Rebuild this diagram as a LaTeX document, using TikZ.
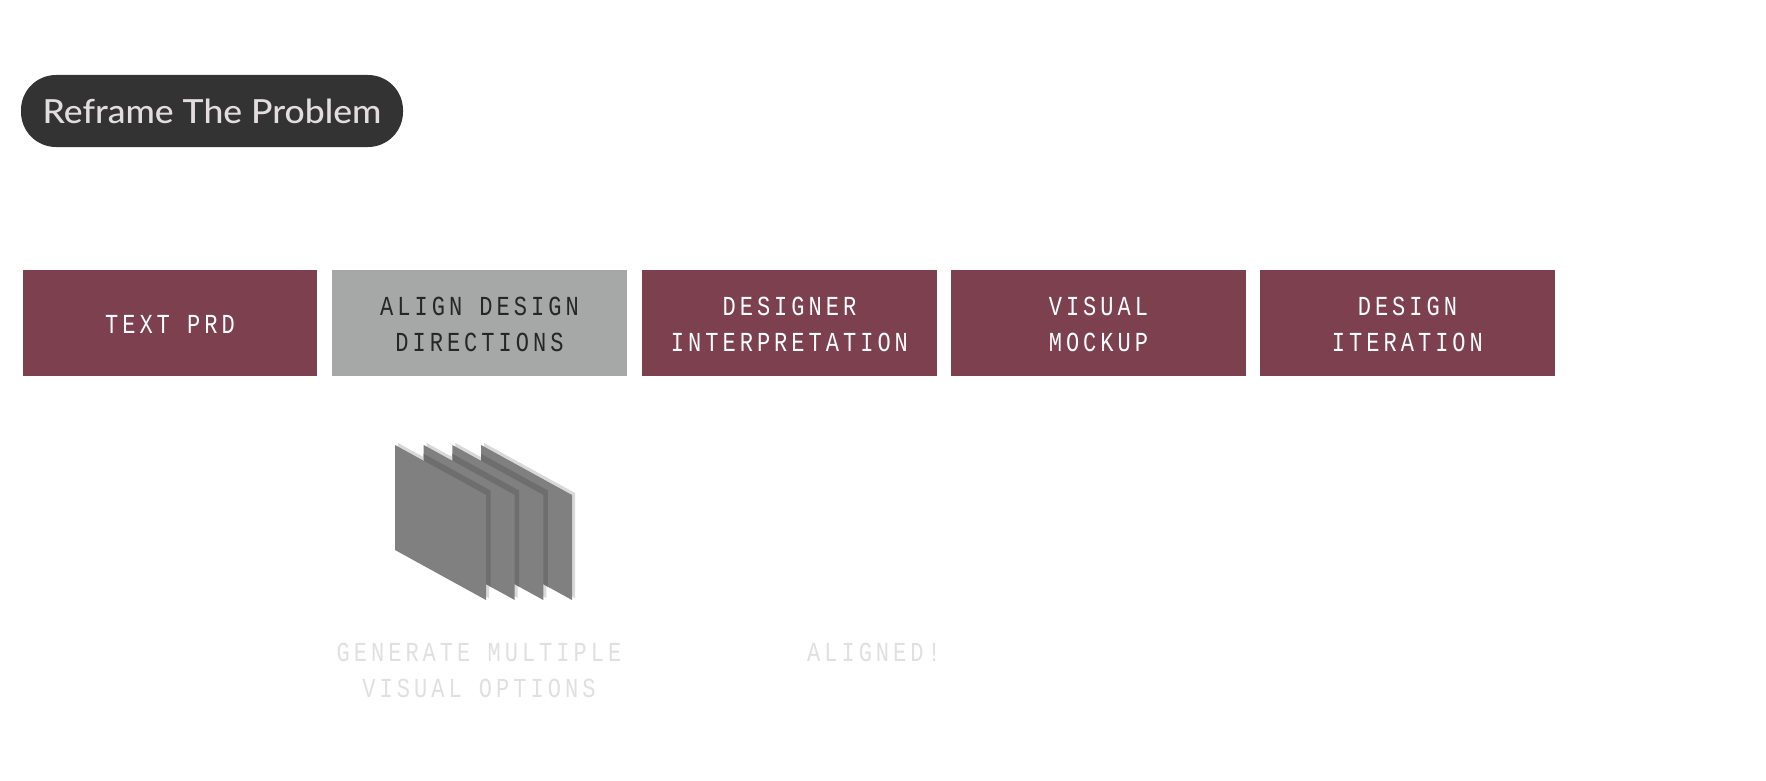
\documentclass[tikz,border=0pt]{standalone}
\usepackage{fontspec}
\setmainfont{Lato}
\newfontfamily\labelfont[FakeStretch=0.8,LetterSpace=14.6]{Liberation Mono}
\newfontfamily\pillfont[FakeStretch=1.07]{Lato Medium}
\definecolor{wine}{HTML}{7D404F}
\definecolor{ash}{HTML}{A6A8A7}
\definecolor{pillgrey}{HTML}{333333}
\definecolor{pilltext}{HTML}{E2DEDF}
\definecolor{palegrey}{HTML}{E0E0E0}
\definecolor{sheet}{HTML}{808080}
\definecolor{sheetshade}{HTML}{6E6E6E}
\definecolor{sheetedge}{HTML}{DAD8D8}
\newcommand{\lowered}[1]{\raisebox{-1pt}[\height][\depth]{#1}}
\tikzset{
  stagebox/.style={minimum width=294.5pt,minimum height=106pt,inner sep=0pt,align=center,anchor=north west,
    font=\labelfont\fontsize{27.5}{36}\selectfont},
  wineBox/.style={stagebox,fill=wine,text=white},
  ashBox/.style={stagebox,fill=ash,text=black!85},
  note/.style={text=palegrey,align=center,inner sep=0pt,font=\labelfont\fontsize{27.5}{36}\selectfont},
}
\newcommand{\sheetpath}{(395,445) -- (486,495) -- (486,600) -- (395,550) -- cycle}
\begin{document}
\begin{tikzpicture}[x=1pt,y=-1pt]
\useasboundingbox[fill=white] (0,0) rectangle (1766,781);
\node[fill=pillgrey,rounded corners=35pt,minimum width=382pt,minimum height=72pt,inner sep=0pt,text=pilltext,
  font=\pillfont\fontsize{33.2}{40}\selectfont] (pill) at (212,111) {\raisebox{-12.3pt}[0pt][0pt]{Reframe The Problem}};
\node[wineBox] (prd) at (22.5,270) {\lowered{TEXT PRD}};
\node[ashBox] (align) at (332,270) {\lowered{ALIGN DESIGN}\\\lowered{DIRECTIONS}};
\node[wineBox] (interp) at (642,270) {\lowered{DESIGNER}\\\lowered{INTERPRETATION}};
\node[wineBox] (mockup) at (951,270) {\lowered{VISUAL}\\\lowered{MOCKUP}};
\node[wineBox] (iter) at (1260,270) {\lowered{DESIGN}\\\lowered{ITERATION}};
% stacked sheets, back to front: halo, shadow on the sheet behind, sheet
\foreach \o/\b in {86/-1,57.3/86,28.7/57.3,0/28.7}{
  \fill[sheetedge,xshift=\o pt+3pt,yshift=2pt] \sheetpath;
  \ifdim\b pt>0pt\relax
  \begin{scope}[xshift=\b pt]
    \clip \sheetpath;
    \fill[sheetshade,xshift=-28.7pt+4.5pt,yshift=4.5pt] \sheetpath;
  \end{scope}
  \fi
  \fill[sheet,xshift=\o pt] \sheetpath;
}
\node[note] (gen) at (479,670) {GENERATE MULTIPLE\\VISUAL OPTIONS};
\node[note] (aligned) at (874,652) {ALIGNED!};
\end{tikzpicture}
\end{document}
